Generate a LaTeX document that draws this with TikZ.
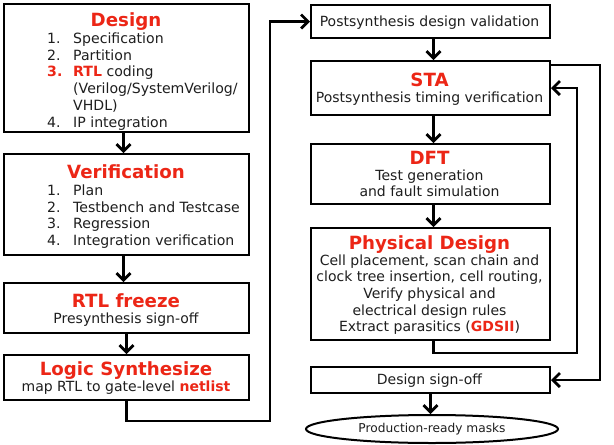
\documentclass[tikz,border=0pt]{standalone}
\usepackage{fontspec}
\setmainfont{DejaVu Sans}
\usetikzlibrary{arrows.meta,shapes.geometric}
\definecolor{tred}{RGB}{236,38,22}
\definecolor{tink}{RGB}{30,30,30}
\begin{document}
\begin{tikzpicture}[x=1pt,y=-1pt,
  box/.style={draw=black, line width=2pt, rectangle, anchor=north west, inner sep=0},
  ttl/.style={anchor=base, inner sep=0, text=tred, font=\fontsize{18.2}{20}\selectfont\bfseries},
  txt/.style={anchor=base, inner sep=0, text=tink, font=\fontsize{14}{16.7}\selectfont},
  lst/.style={anchor=base west, inner sep=0, text=tink, font=\fontsize{14.1}{16.7}\selectfont},
  conn/.style={line width=2.8pt, -{Straight Barb[length=7pt,width=14pt]}, line join=miter}]
\fill[white] (0,0) rectangle (614,445);
\useasboundingbox (0,0) rectangle (614,445);

% left column boxes
\node[box, minimum width=245pt, minimum height=128pt] (design) at (3,3) {};
\node[box, minimum width=245pt, minimum height=101pt] (verif) at (3,153) {};
\node[box, minimum width=245pt, minimum height=50pt] (rtl) at (3,282) {};
\node[box, minimum width=245pt, minimum height=45pt] (logic) at (3,354) {};

% right column boxes
\node[box, minimum width=239pt, minimum height=33pt] (post) at (310,4) {};
\node[box, minimum width=239pt, minimum height=54pt] (sta) at (310,60) {};
\node[box, minimum width=239pt, minimum height=60pt] (dft) at (310,143) {};
\node[box, minimum width=239pt, minimum height=112pt] (phys) at (310,227) {};
\node[box, minimum width=239pt, minimum height=26pt] (signoff) at (310,366) {};
\node[draw=black, line width=2pt, ellipse, minimum width=252pt, minimum height=28pt, inner sep=0,
      text=tink, font=\fontsize{12.2}{14}\selectfont] (masks) at (432,429) {Production-ready masks};

% texts left
\node[ttl] (designT) at (126,26.5) {Design};
\node[lst] (designL) at (47,43.5) {\begin{tabular}[t]{@{}p{26pt}@{}l@{}}
1.&Specification\\
2.&Partition\\
\textcolor{tred}{\bfseries 3.}&\textcolor{tred}{\bfseries RTL} coding\\
&(Verilog/SystemVerilog/\\
&VHDL)\\
4.&IP integration
\end{tabular}};

\node[ttl] (verifT) at (126,178.5) {Verification};
\node[lst] (verifL) at (47,195.5) {\begin{tabular}[t]{@{}p{26pt}@{}l@{}}
1.&Plan\\
2.&Testbench and Testcase\\
3.&Regression\\
4.&Integration verification
\end{tabular}};

\node[ttl] (rtlT) at (126,307) {RTL freeze};
\node[txt] (rtlS) at (126,323.5) {Presynthesis sign-off};

\node[ttl] (logicT) at (126,375) {Logic Synthesize};
\node[txt] (logicS) at (126,391) {map RTL to gate-level \textcolor{tred}{\bfseries netlist}};

% texts right
\node[txt] (postT) at (429.5,26) {Postsynthesis design validation};

\node[ttl] (staT) at (429.5,86) {STA};
\node[txt] (staS) at (429.5,102) {Postsynthesis timing verification};

\node[ttl] (dftT) at (429.5,164) {DFT};
\node[txt] (dftS) at (429.5,180) {\begin{tabular}[t]{@{}c@{}}Test generation\\and fault simulation\end{tabular}};

\node[ttl] (physT) at (429.5,249) {Physical Design};
\node[txt] (physS) at (429.5,265) {\begin{tabular}[t]{@{}c@{}}Cell placement, scan chain and\\
clock tree insertion, cell routing,\\
Verify physical and\\
electrical design rules\\
Extract parasitics (\textcolor{tred}{\bfseries GDSII})\end{tabular}};

\node[txt] (signoffT) at (429.5,384.5) {Design sign-off};

% connectors
\coordinate (c1) at (270,421);
\coordinate (c2) at (600,65);
\coordinate (c3) at (577,353);

\draw[conn] ([xshift=-3pt]design.south) -- ([xshift=-3pt]verif.north);
\draw[conn] ([xshift=-3pt]verif.south) -- ([xshift=-3pt]rtl.north);
\draw[conn] (rtl.south) -- (logic.north);
\draw[conn] (logic.south) |- (c1) |- (post.west);
\draw[conn] ([xshift=3pt]post.south) -- ([xshift=3pt]sta.north);
\draw[conn] ([xshift=3pt]sta.south) -- ([xshift=3pt]dft.north);
\draw[conn] ([xshift=3pt]dft.south) -- ([xshift=3pt]phys.north);
\draw[conn] ([xshift=3pt]phys.south) |- (c3) |- (sta.east);
\draw[conn] ([yshift=-5pt]sta.north east) -- (c2) |- (signoff.east);
\draw[conn] (signoff.south) -- (signoff.south |- masks.north);
\end{tikzpicture}
\end{document}
